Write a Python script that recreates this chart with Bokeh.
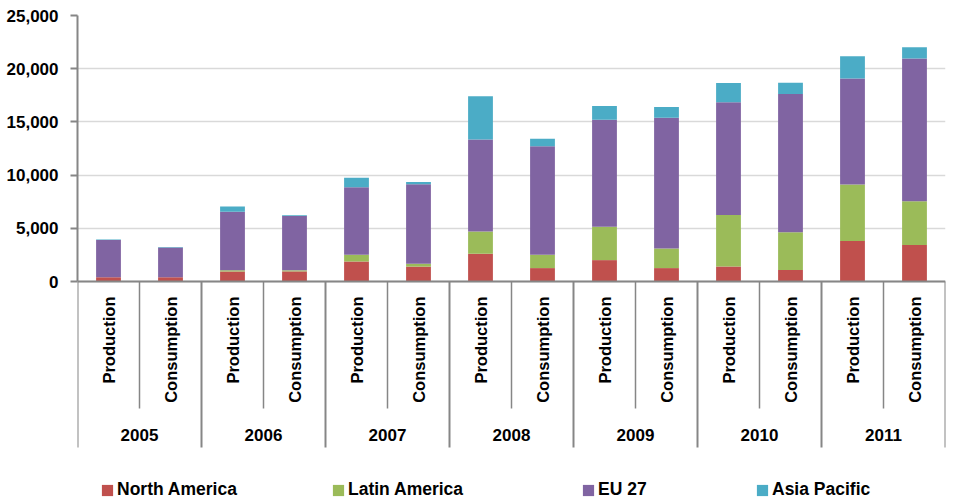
import math
from bokeh.plotting import figure
from bokeh.models import (Range1d, FixedTicker, NumeralTickFormatter, Span,
                          Legend, LegendItem, ColumnDataSource)
from bokeh.core.properties import value
from bokeh.embed import file_html
from bokeh.resources import INLINE

# ---- data ----
years = ["2005", "2006", "2007", "2008", "2009", "2010", "2011"]
kinds = ["Production", "Consumption"]
series_names = ["North America", "Latin America", "EU 27", "Asia Pacific"]
north_america = [400, 400, 950, 950, 1880, 1400, 2610, 1260, 2010, 1260, 1410, 1070, 3800, 3420]
latin_america = [0, 0, 100, 100, 630, 270, 2100, 1250, 3140, 1850, 4840, 3550, 5310, 4120]
eu27 = [3500, 2800, 5500, 5100, 6350, 7470, 8640, 10210, 10050, 12290, 10590, 13000, 9960, 13410]
asia_pacific = [50, 50, 500, 70, 880, 220, 4060, 690, 1290, 1000, 1820, 1070, 2110, 1070]
y_ticks = [0, 5000, 10000, 15000, 20000, 25000]
colors = ["#C0504D", "#9BBB59", "#8064A2", "#4BACC6"]

# ---- layout constants (pixels) ----
W, H = 950, 500
FRAME_TOP = 15           # figure-local px of y = 25000
ZERO_PX = 281            # figure-local px of y = 0
Y_MAX = 25000
per_px = Y_MAX / (ZERO_PX - FRAME_TOP)


def px_y(py):
    """data y for a figure-local pixel row"""
    return (ZERO_PX - py) * per_px


n = len(years) * len(kinds)
x_centers = [i + 0.5 for i in range(n)]
labels = [k for _ in years for k in kinds]

source = ColumnDataSource(dict(x=x_centers, na=north_america, la=latin_america,
                               eu=eu27, ap=asia_pacific))

FONT = "Liberation Sans"

p = figure(width=W, height=H, output_backend="svg", toolbar_location=None,
           x_range=Range1d(0, n), y_range=Range1d(px_y(H), Y_MAX),
           x_axis_location=None, min_border=0, min_border_left=77,
           min_border_right=5, min_border_top=FRAME_TOP, min_border_bottom=0,
           outline_line_color=None)

renderers = p.vbar_stack(["na", "la", "eu", "ap"], x="x", width=0.4, color=colors,
                         line_color=None, source=source)

p.xgrid.visible = False
p.ygrid.grid_line_color = "#d9d9d9"
p.ygrid.grid_line_width = 1.5

ax = p.yaxis[0]
ax.ticker = FixedTicker(ticks=y_ticks)
ax.formatter = NumeralTickFormatter(format="0,0")
ax.bounds = (0, Y_MAX)
ax.axis_line_color = "#868686"
ax.axis_line_width = 2
ax.major_tick_line_color = "#868686"
ax.major_tick_line_width = 2
ax.major_tick_out = 7
ax.major_tick_in = 0
ax.minor_tick_line_color = None
ax.major_label_standoff = 12
ax.major_label_text_font = FONT
ax.major_label_text_font_style = "bold"
ax.major_label_text_font_size = "17px"
ax.major_label_text_color = "black"

# x axis line at zero
p.add_layout(Span(location=0, dimension="width", line_color="#868686", line_width=2))

# category separators
inner_x = [2 * i + 1 for i in range(len(years))]
outer_x = [2 * i for i in range(len(years) + 1)]
p.segment(x0=inner_x, x1=inner_x, y0=0, y1=px_y(408), line_color="#868686", line_width=1.5)
p.segment(x0=outer_x, x1=outer_x, y0=0, y1=px_y(447), line_color="#868686", line_width=2)

# category labels
p.text(x=x_centers, y=[px_y(296)] * n, text=labels, angle=math.pi / 2,
       text_align="right", text_baseline="middle", text_font=value(FONT),
       text_font_style="bold", text_font_size="16.5px", text_color="black")
p.text(x=[2 * i + 1 for i in range(len(years))], y=[px_y(434)] * len(years), text=years,
       text_align="center", text_baseline="middle", text_font=value(FONT),
       text_font_style="bold", text_font_size="17px", text_color="black")

# legend: one legend per item for exact spacing
leg_x = [23, 254, 504, 678]
for r, name, lx in zip(renderers, series_names, leg_x):
    leg = Legend(items=[LegendItem(label=name, renderers=[r])], location=(lx, 0),
                 orientation="horizontal", border_line_color=None,
                 background_fill_alpha=0, padding=0, margin=0, spacing=0,
                 glyph_width=14, glyph_height=14, label_standoff=3,
                 label_text_font=FONT, label_text_font_style="bold",
                 label_text_font_size="17.5px", label_text_color="black",
                 label_height=16)
    p.add_layout(leg, "center")

open("out.html", "w").write(file_html(p, INLINE))
